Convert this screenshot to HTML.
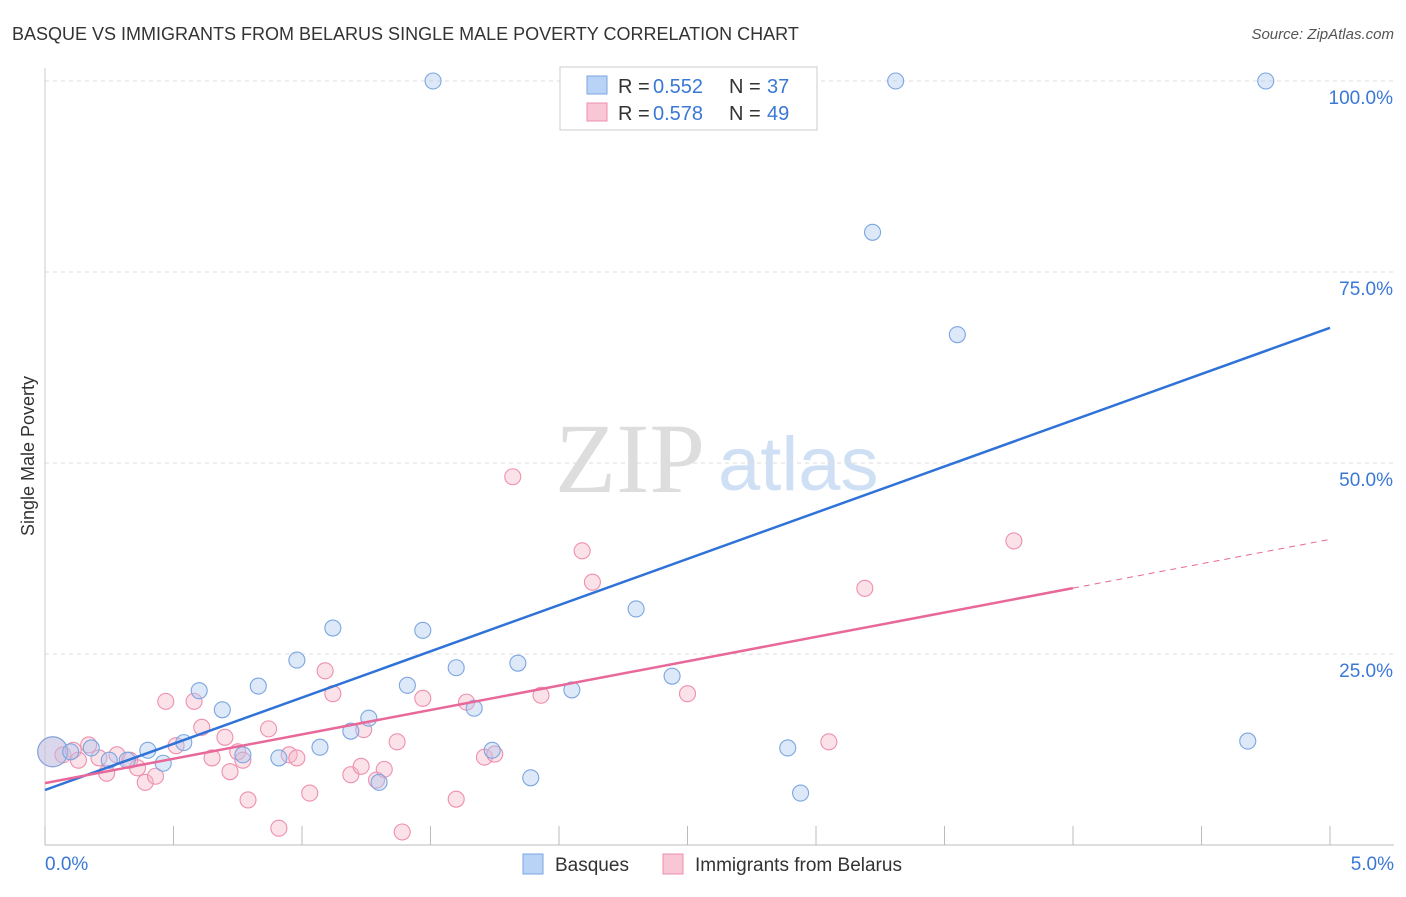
<!DOCTYPE html>
<html><head><meta charset="utf-8"><style>
body{margin:0;background:#fff;font-family:"Liberation Sans",sans-serif}
svg text{font-family:"Liberation Sans",sans-serif}
</style></head><body>
<svg id="chart" width="1406" height="892" viewBox="0 0 1406 892" xmlns="http://www.w3.org/2000/svg">
<text x="12" y="40" font-size="18" fill="#333">BASQUE VS IMMIGRANTS FROM BELARUS SINGLE MALE POVERTY CORRELATION CHART</text>
<text x="1394" y="39" font-size="15" fill="#555" text-anchor="end" font-style="italic">Source: ZipAtlas.com</text>
<text x="555" y="492" font-size="100" fill="#ddd" style="font-family:'Liberation Serif',serif">ZIP</text>
<text x="718" y="490" font-size="76" fill="#cfe0f5">atlas</text>
<text transform="translate(34,456) rotate(-90)" font-size="18" fill="#333" text-anchor="middle">Single Male Poverty</text>
<g id="grid"></g><g id="marks"></g>
<g>
<rect x="560" y="67" width="257" height="63" fill="#fff" stroke="#ccc"/>
<rect x="587" y="76" width="20" height="18" fill="#b8d3f5" stroke="#7ba6e0"/>
<rect x="587" y="103" width="20" height="18" fill="#f9c6d6" stroke="#ee8fae"/>
<text x="618" y="93" font-size="20" fill="#333">R = </text><text x="653" y="93" font-size="20" fill="#3a78d6">0.552</text>
<text x="729" y="93" font-size="20" fill="#333">N = </text><text x="767" y="93" font-size="20" fill="#3a78d6">37</text>
<text x="618" y="120" font-size="20" fill="#333">R = </text><text x="653" y="120" font-size="20" fill="#3a78d6">0.578</text>
<text x="729" y="120" font-size="20" fill="#333">N = </text><text x="767" y="120" font-size="20" fill="#3a78d6">49</text>
</g>
<g>
<rect x="523" y="854" width="20" height="20" fill="#b8d3f5" stroke="#7ba6e0"/>
<text x="555" y="871" font-size="19" fill="#333">Basques</text>
<rect x="663" y="854" width="20" height="20" fill="#f9c6d6" stroke="#ee8fae"/>
<text x="695" y="871" font-size="19" fill="#333">Immigrants from Belarus</text>
</g>
</svg>
<script>
const blueX=[1.51,3.31,4.75,3.22,3.55,0.03,0.10,0.18,0.25,0.32,0.40,0.46,0.54,0.60,0.69,0.77,0.83,0.91,0.98,1.07,1.12,1.19,1.26,1.30,1.41,1.47,1.60,1.67,1.74,1.84,1.89,2.05,2.30,2.44,2.89,2.94,4.68];
const blueY=[100,100,100,80.2,66.8,12.2,12.2,12.7,11.1,11.1,12.4,10.7,13.4,20.2,17.7,11.8,20.8,11.4,24.2,12.8,28.4,14.9,16.6,8.2,20.9,28.1,23.2,17.9,12.4,23.8,8.8,20.3,30.9,22.1,12.7,6.8,13.6];
const pinkX=[0.03,0.07,0.11,0.13,0.17,0.21,0.24,0.28,0.33,0.36,0.39,0.43,0.47,0.51,0.58,0.61,0.65,0.70,0.72,0.75,0.77,0.79,0.87,0.91,0.95,0.98,1.03,1.09,1.12,1.19,1.23,1.24,1.29,1.32,1.37,1.39,1.47,1.60,1.64,1.71,1.75,1.82,1.93,2.09,2.13,2.50,3.05,3.19,3.77];
const pinkY=[12.2,11.8,12.4,11.1,13.1,11.4,9.4,11.8,11.1,10.1,8.2,9.0,18.8,13.0,18.8,15.4,11.4,14.1,9.6,12.2,11.1,5.9,15.2,2.2,11.8,11.4,6.8,22.8,19.8,9.2,10.3,15.1,8.5,9.9,13.5,1.7,19.2,6.0,18.7,11.5,11.9,48.2,19.6,38.5,34.4,19.8,13.5,33.6,39.8];
const yTicks=[25,50,75,100];
const xTickVals=[0,0.5,1,1.5,2,2.5,3,3.5,4,4.5,5];
const blueTrend=[7.2,67.7];
const pinkTrend=[8.1,40.0];
const pinkSolidEnd=4;
const X=v=>45+v*257, Y=v=>845-v*7.64;
const NS="http://www.w3.org/2000/svg";
const g=document.getElementById('grid'), m=document.getElementById('marks');
function mk(tag,attrs,parent){const e=document.createElementNS(NS,tag);for(const k in attrs)e.setAttribute(k,attrs[k]);parent.appendChild(e);return e;}
yTicks.forEach(t=>{
 const l=mk('line',{x1:45,x2:1394,y1:Y(t),y2:Y(t),stroke:'#ddd','stroke-dasharray':'4 4'},g);
 
 
 const tx=mk('text',{x:1393,y:Y(t)+23,'font-size':19,fill:'#3a78d6','text-anchor':'end'},g);
 tx.textContent=t.toFixed(1)+'%';
 
 
});
const ax=mk('line',{x1:45,x2:1394,y1:845,y2:845,stroke:'#bbb'},g);


const ay=mk('line',{x1:45,x2:45,y1:68,y2:845,stroke:'#ccc'},g);


xTickVals.forEach(t=>{
 const l=mk('line',{x1:X(t),x2:X(t),y1:826,y2:845,stroke:'#bbb'},g);
 
 
});
[[0,'start',45],[5,'end',1394]].forEach(([v,a,x])=>{
 const tx=mk('text',{x:x,y:870,'font-size':19,fill:'#3a78d6','text-anchor':a},g);
 tx.textContent=v.toFixed(1)+'%';
 
 
});
pinkX.forEach((x,i)=>{
 const c=mk('circle',{cx:X(x),cy:Y(pinkY[i]),r:i==0?15:8,fill:'#f5b7c9','fill-opacity':0.4,stroke:'#ee8fae','stroke-width':1.1},m);
 
 
});
blueX.forEach((x,i)=>{
 const c=mk('circle',{cx:X(x),cy:Y(blueY[i]),r:i==5?15:8,fill:'#a9c8f0','fill-opacity':0.4,stroke:'#7ba6e0','stroke-width':1.1},m);
 
 
});
const bt=mk('line',{x1:X(0),y1:Y(blueTrend[0]),x2:X(5),y2:Y(blueTrend[1]),stroke:'#2f72d8','stroke-width':2.5},m);


const pm=pinkTrend[0]+(pinkTrend[1]-pinkTrend[0])*pinkSolidEnd/5;
const pt=mk('line',{x1:X(0),y1:Y(pinkTrend[0]),x2:X(pinkSolidEnd),y2:Y(pm),stroke:'#e8689a','stroke-width':2.5},m);


const pd=mk('line',{x1:X(pinkSolidEnd),y1:Y(pm),x2:X(5),y2:Y(pinkTrend[1]),stroke:'#e8689a','stroke-width':1,'stroke-dasharray':'6 5'},m);


</script>
</body></html>
